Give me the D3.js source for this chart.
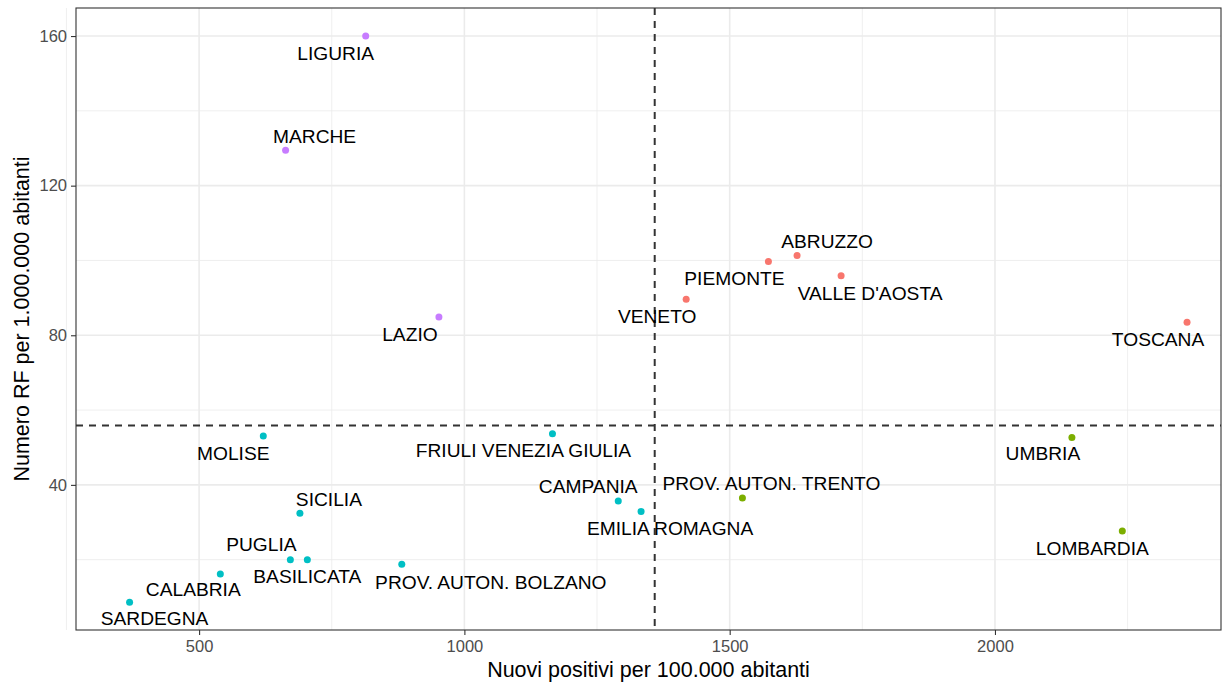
<!DOCTYPE html>
<html>
<head>
<meta charset="utf-8">
<script src="https://cdn.jsdelivr.net/npm/d3@7"></script>
<style>
  body { margin: 0; background: #fff; }
  text { font-family: "Liberation Sans", Arial, sans-serif; }
</style>
</head>
<body>
<svg width="1222" height="682"></svg>
<script>
// regions and their values
var regions = ["LIGURIA", "MARCHE", "LAZIO", "VENETO", "PIEMONTE", "ABRUZZO", "VALLE D'AOSTA", "TOSCANA",
               "MOLISE", "SICILIA", "PUGLIA", "BASILICATA", "CALABRIA", "SARDEGNA", "PROV. AUTON. BOLZANO",
               "FRIULI VENEZIA GIULIA", "CAMPANIA", "EMILIA ROMAGNA", "PROV. AUTON. TRENTO", "UMBRIA", "LOMBARDIA"];
var positivi = [814, 663, 952, 1418, 1573, 1627, 1710, 2362,
                621, 690, 672, 704, 540, 369, 882,
                1166, 1290, 1333, 1524, 2145, 2240];
var numeroRF = [160, 129.5, 84.9, 89.6, 99.7, 101.3, 95.9, 83.5,
                53.1, 32.4, 20.0, 20.0, 16.2, 8.6, 18.8,
                53.7, 35.7, 32.9, 36.5, 52.7, 27.7];
var gruppo = ["D", "D", "D", "A", "A", "A", "A", "A",
              "C", "C", "C", "C", "C", "C", "C",
              "C", "C", "C", "B", "B", "B"];
var xLine = 1358.7;
var yLine = 55.9;
var xTicks = [500, 1000, 1500, 2000];
var yTicks = [40, 80, 120, 160];

// label placement (px offsets of label centre from point)
var nudge = {
  "LIGURIA": [-30, 17], "MARCHE": [29, -14], "LAZIO": [-29, 17], "VENETO": [-29, 17],
  "PIEMONTE": [-34, 17], "ABRUZZO": [30, -14], "VALLE D'AOSTA": [29, 17], "TOSCANA": [-29, 17],
  "MOLISE": [-30, 17], "SICILIA": [29, -14], "PUGLIA": [-29, -15], "BASILICATA": [0, 17],
  "CALABRIA": [-27, 15], "SARDEGNA": [25, 16], "PROV. AUTON. BOLZANO": [89, 18],
  "FRIULI VENEZIA GIULIA": [-29, 17], "CAMPANIA": [-30, -15], "EMILIA ROMAGNA": [29, 17],
  "PROV. AUTON. TRENTO": [29, -15], "UMBRIA": [-29, 16], "LOMBARDIA": [-30, 17]
};

var data = regions.map((r, i) => ({name: r, x: positivi[i], y: numeroRF[i], g: gruppo[i]}));

var margin = {left: 76, top: 8, right: 1221, bottom: 630};

var x = d3.scaleLinear().domain([268, 2426]).range([margin.left, margin.right]);
var y = d3.scaleLinear().domain([1.2, 167.5]).range([margin.bottom, margin.top]);

var color = d3.scaleOrdinal()
              .domain(["A", "B", "C", "D"])
              .range(["#F8766D", "#7CAE00", "#00BFC4", "#C77CFF"]);

var svg = d3.select("svg");

// minor grid
var xMinor = [250, 750, 1250, 1750, 2250];
var yMinor = [20, 60, 100, 140];
svg.append("g").selectAll("line").data(xMinor).enter().append("line")
    .attr("x1", d => x(d)).attr("x2", d => x(d))
    .attr("y1", margin.top).attr("y2", margin.bottom)
    .attr("stroke", "#EBEBEB").attr("stroke-width", 0.8);
svg.append("g").selectAll("line").data(yMinor).enter().append("line")
    .attr("x1", margin.left).attr("x2", margin.right)
    .attr("y1", d => y(d)).attr("y2", d => y(d))
    .attr("stroke", "#EBEBEB").attr("stroke-width", 0.8);

// major grid
svg.append("g").selectAll("line").data(xTicks).enter().append("line")
    .attr("x1", d => x(d)).attr("x2", d => x(d))
    .attr("y1", margin.top).attr("y2", margin.bottom)
    .attr("stroke", "#EBEBEB").attr("stroke-width", 1.6);
svg.append("g").selectAll("line").data(yTicks).enter().append("line")
    .attr("x1", margin.left).attr("x2", margin.right)
    .attr("y1", d => y(d)).attr("y2", d => y(d))
    .attr("stroke", "#EBEBEB").attr("stroke-width", 1.6);

// reference lines
svg.append("line")
    .attr("x1", x(xLine)).attr("x2", x(xLine))
    .attr("y1", margin.top).attr("y2", margin.bottom)
    .attr("stroke", "#333").attr("stroke-width", 2).attr("stroke-dasharray", "7,6");
svg.append("line")
    .attr("x1", margin.left).attr("x2", margin.right)
    .attr("y1", y(yLine)).attr("y2", y(yLine))
    .attr("stroke", "#333").attr("stroke-width", 2).attr("stroke-dasharray", "7,6");

// points
svg.append("g").selectAll("circle").data(data).enter().append("circle")
    .attr("cx", d => x(d.x))
    .attr("cy", d => y(d.y))
    .attr("r", 3.5)
    .attr("fill", d => color(d.g));

// labels
svg.append("g").selectAll("text").data(data).enter().append("text")
    .attr("x", d => x(d.x) + nudge[d.name][0])
    .attr("y", d => y(d.y) + nudge[d.name][1] + 6.8)
    .attr("text-anchor", "middle")
    .attr("font-size", "19.2px")
    .attr("fill", "#000")
    .text(d => d.name);

// axes
var xAxis = svg.append("g")
    .attr("transform", "translate(0," + margin.bottom + ")")
    .call(d3.axisBottom(x).tickValues(xTicks).tickSize(5).tickPadding(5).tickFormat(d3.format("d")));
var yAxis = svg.append("g")
    .attr("transform", "translate(" + margin.left + ",0)")
    .call(d3.axisLeft(y).tickValues(yTicks).tickSize(5).tickPadding(4).tickFormat(d3.format("d")));

[xAxis, yAxis].forEach(a => {
  a.select(".domain").remove();
  a.selectAll(".tick line").attr("stroke", "#333").attr("stroke-width", 1.1);
  a.selectAll(".tick text").attr("fill", "#4D4D4D").attr("font-size", "16.5px")
    .attr("font-family", "Liberation Sans, Arial, sans-serif");
});

// panel border
svg.append("rect")
    .attr("x", margin.left).attr("y", margin.top)
    .attr("width", margin.right - margin.left)
    .attr("height", margin.bottom - margin.top)
    .attr("fill", "none").attr("stroke", "#333").attr("stroke-width", 1.1);

// titles
svg.append("text")
    .attr("x", (margin.left + margin.right) / 2)
    .attr("y", 677)
    .attr("text-anchor", "middle")
    .attr("font-size", "21.5px")
    .text("Nuovi positivi per 100.000 abitanti");
svg.append("text")
    .attr("transform", "translate(29," + (margin.top + margin.bottom) / 2 + ") rotate(-90)")
    .attr("text-anchor", "middle")
    .attr("font-size", "21.5px")
    .text("Numero RF per 1.000.000 abitanti");
</script>
</body>
</html>
